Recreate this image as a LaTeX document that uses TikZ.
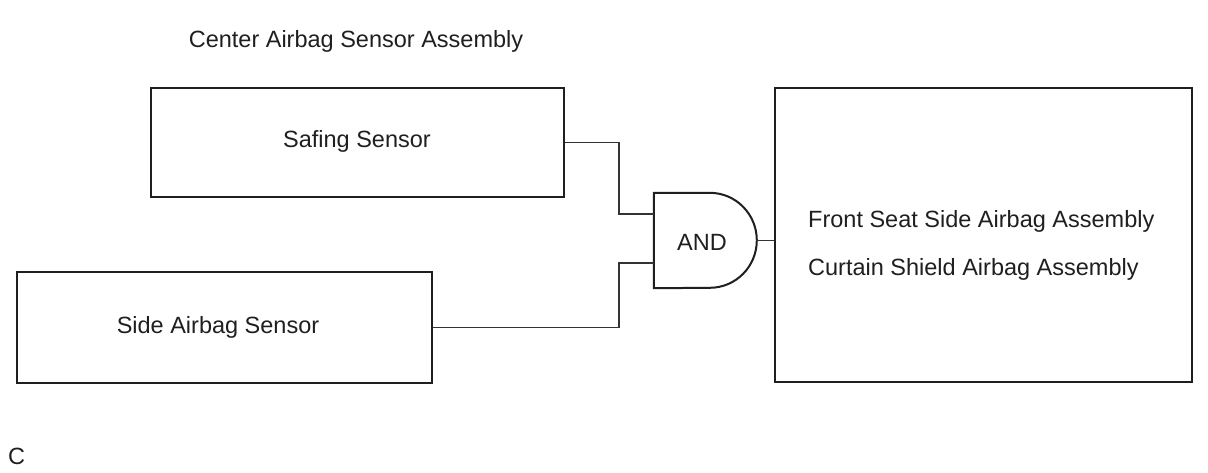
\documentclass[tikz,border=0pt]{standalone}
\usepackage{fontspec}
\setmainfont{Liberation Sans}
\begin{document}
\begin{tikzpicture}[x=1pt,y=-1pt,
  box/.style={draw=black!88,line width=2pt,rectangle,inner sep=0pt},
  wire/.style={draw=black!80,line width=1.5pt},
  txt/.style={anchor=base,inner sep=0pt,font=\fontsize{23.5}{28}\selectfont,text=black!88},
  ltxt/.style={anchor=base west,inner sep=0pt,font=\fontsize{23.5}{28}\selectfont,text=black!88}]
\useasboundingbox[fill=white] (0,0) rectangle (1208,472);
\node[box,minimum width=413pt,minimum height=109pt] (safe) at (357.5,142.5) {};
\node[box,minimum width=415pt,minimum height=111pt] (side) at (224.5,327.5) {};
\node[box,minimum width=417pt,minimum height=294pt] (act) at (983.5,235) {};
\node[minimum width=103pt,minimum height=95pt,inner sep=0pt] (gate) at (705.5,240.5) {};
\draw[draw=black!88,line width=2pt] (gate.north west) -- ++(56,0)
  arc[start angle=-90,end angle=90,x radius=47,y radius=47.5] -- (gate.south west) -- cycle;
\node[txt] (andl) at (702,250) {AND};
\node[txt] (title) at (356,47) {Center Airbag Sensor Assembly};
\node[txt] (safel) at (357,147) {Safing Sensor};
\node[txt] (sidel) at (218,333) {Side Airbag Sensor};
\node[ltxt] (f1) at (808,227) {Front Seat Side Airbag Assembly};
\node[ltxt] (f2) at (808,275) {Curtain Shield Airbag Assembly};
\node[ltxt] (c) at (8,464) {C};
\coordinate (in1) at ([yshift=26.5pt]gate.west);
\coordinate (in2) at ([yshift=-22.5pt]gate.west);
\draw[wire] (safe.east) -| (619,214) -- (in1);
\draw[wire] (side.east) -| (619,263) -- (in2);
\draw[wire] ([xshift=-1pt]gate.east) -- (gate.east -| act.west);
\end{tikzpicture}
\end{document}
